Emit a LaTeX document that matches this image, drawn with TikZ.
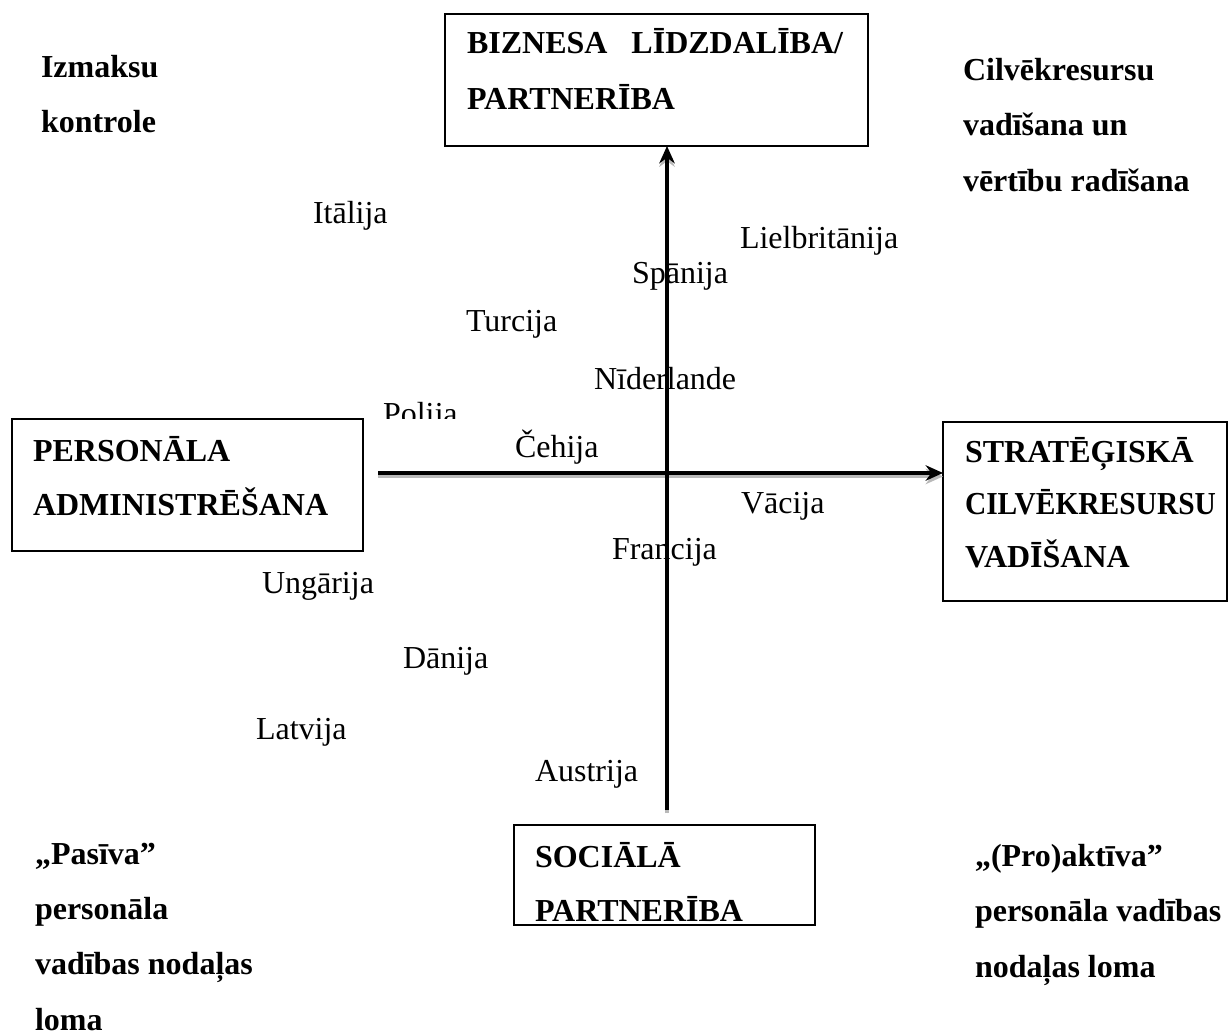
\documentclass[tikz,border=0pt]{standalone}
\usepackage{fontspec}
\usepackage{graphicx}
\setmainfont{Liberation Serif}
\usetikzlibrary{arrows.meta,fit}
\begin{document}
\begin{tikzpicture}[x=0.375pt,y=-0.375pt,
  every node/.style={inner sep=0pt, outer sep=0pt},
  lbl/.style={anchor=base west, font=\fontsize{12}{20.7}\selectfont, align=left},
  blbl/.style={anchor=base west, font=\fontsize{12}{20.7}\selectfont\bfseries, align=left},
  boxtxt/.style={anchor=base west, font=\fontsize{12}{19.9}\selectfont\bfseries, align=left},
  box/.style={draw, line width=0.7pt, rectangle},
  axis/.style={line width=1.4pt, -{Stealth[length=6.5pt,width=5.8pt]}},
  shadowaxis/.style={axis, draw=gray!55, fill=gray!55}
]
\useasboundingbox (0,0) rectangle (1229,1034);
% boxes
\node[box, fit={(445,14) (868,146)}] (topbox) {};
\node[box, fit={(12,419) (363,551)}] (leftbox) {};
\node[box, fit={(943,422) (1227,601)}] (rightbox) {};
\node[box, fit={(514,825) (815,925)}] (botbox) {};
% box texts (anchor = baseline of last line)
\node[blbl, font=\fontsize{12}{21}\selectfont\bfseries] (toptext) at (467,110) {BIZNESA\hspace{9pt}LĪDZDALĪBA/\\PARTNERĪBA};
\node[boxtxt] (lefttext) at (33,515) {PERSONĀLA\\ADMINISTRĒŠANA};
\node[boxtxt, font=\fontsize{12}{19.6}\selectfont\bfseries] (righttext) at (965,567) {STRATĒĢISKĀ\\\scalebox{0.92}[1]{CILVĒKRESURSU}\\VADĪŠANA};
\node[boxtxt] (bottext) at (535,921) {SOCIĀLĀ\\PARTNERĪBA};
% corner texts
\node[blbl] (izm) at (41,133) {Izmaksu\\kontrole};
\node[blbl] (cilv) at (963,191) {Cilvēkresursu\\vadīšana un\\vērtību radīšana};
\node[blbl] (pas) at (35,1030) {„Pasīva”\\personāla\\vadības nodaļas\\loma};
\node[blbl] (pro) at (975,977) {„(Pro)aktīva”\\personāla vadības\\nodaļas loma};
% countries
\node[lbl] (ita) at (313,223) {Itālija};
\node[lbl] (uk) at (740,248) {Lielbritānija};
\node[lbl] (spa) at (632,283) {Spānija};
\node[lbl] (tur) at (466,331) {Turcija};
\node[lbl] (nid) at (594,389) {Nīderlande};
\begin{scope}
  \clip (300,380) rectangle (500,418);
  \node[lbl] (pol) at (383,424) {Polija};
\end{scope}
\node[lbl] (cze) at (515,457) {Čehija};
\node[lbl] (ger) at (741,513) {Vācija};
\node[lbl] (fra) at (612,559) {Francija};
\node[lbl] (hun) at (262,593) {Ungārija};
\node[lbl] (den) at (403,668) {Dānija};
\node[lbl] (lat) at (256,739) {Latvija};
\node[lbl] (aut) at (535,781) {Austrija};
% axes
\coordinate (hstart) at (378,473);
\coordinate (vstart) at (667,810);
\draw[shadowaxis] ([yshift=-1.3pt]hstart) -- ([yshift=-1.3pt]hstart -| rightbox.west);
\draw[shadowaxis] ([yshift=-1.3pt]vstart) -- ([yshift=-1.3pt]vstart |- topbox.south);
\draw[axis] (hstart) -- (hstart -| rightbox.west);
\draw[axis] (vstart) -- (vstart |- topbox.south);
\end{tikzpicture}
\end{document}
